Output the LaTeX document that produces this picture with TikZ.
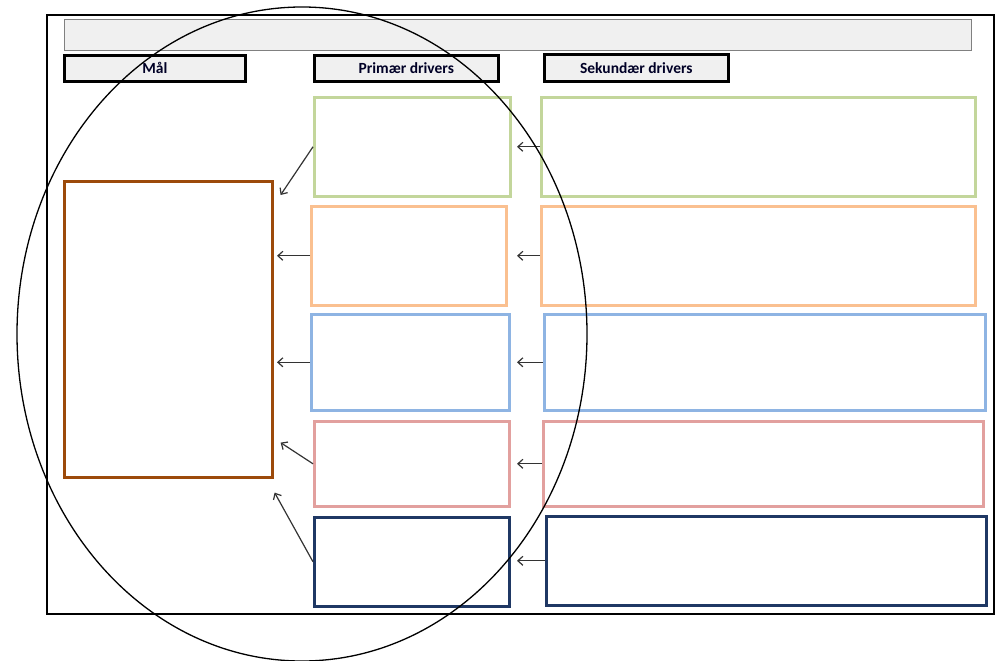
\documentclass[tikz,border=0pt]{standalone}
\usepackage{fontspec}
\setmainfont{Carlito}
\usetikzlibrary{arrows.meta,shapes.geometric,calc}
\definecolor{cgreen}{HTML}{C3D69B}
\definecolor{corange}{HTML}{FAC090}
\definecolor{cblue}{HTML}{8EB4E3}
\definecolor{cpink}{HTML}{E2A09E}
\definecolor{cnavy}{HTML}{1F3864}
\definecolor{cbrown}{HTML}{9C4A0A}
\definecolor{cfill}{HTML}{F0F0F0}
\definecolor{carrow}{HTML}{333333}
\tikzset{
  box/.style={draw, line width=2.6pt, anchor=north west, inner sep=0pt},
  hdr/.style={draw=black, fill=cfill, line width=2.6pt, anchor=north west, inner sep=0pt, text=black!85!blue, font=\bfseries\fontsize{15.5}{17}\selectfont},
  conn/.style={draw=carrow, line width=1.2pt, -{Straight Barb[length=5pt,width=9pt]}},
}
\begin{document}
\begin{tikzpicture}[x=1pt,y=-1pt]
\useasboundingbox (0,0) rectangle (996,661);
% outer frame
\node[draw=black, line width=1.6pt, anchor=north west, inner sep=0pt, minimum width=947pt, minimum height=599pt] (frame) at (46,14) {};
% title bar
\node[draw=gray, fill=cfill, line width=0.8pt, anchor=north west, inner sep=0pt, minimum width=907pt, minimum height=31pt] (title) at (64,19) {};
% headers
\node[hdr, minimum width=181pt, minimum height=26pt] (hmal) at (63,54) {Mål};
\node[hdr, minimum width=184pt, minimum height=26pt] (hprim) at (313,54) {Primær drivers};
\node[hdr, minimum width=184pt, minimum height=27pt] (hsek) at (543,53) {Sekundær drivers};
% goal
\node[box, draw=cbrown, minimum width=208pt, minimum height=296pt] (goal) at (63,180) {};
% primary drivers
\node[box, draw=cgreen,  minimum width=196pt, minimum height=99pt] (p1) at (313,96) {};
\node[box, draw=corange, minimum width=195pt, minimum height=99pt] (p2) at (310,205) {};
\node[box, draw=cblue,   minimum width=198pt, minimum height=96pt] (p3) at (310,313) {};
\node[box, draw=cpink,   minimum width=195pt, minimum height=85pt] (p4) at (313,420) {};
\node[box, draw=cnavy,   minimum width=195pt, minimum height=89pt] (p5) at (313,516) {};
% secondary drivers
\node[box, draw=cgreen,  minimum width=434pt, minimum height=99pt] (s1) at (540,96) {};
\node[box, draw=corange, minimum width=434pt, minimum height=99pt] (s2) at (540,205) {};
\node[box, draw=cblue,   minimum width=441pt, minimum height=96pt] (s3) at (543,313) {};
\node[box, draw=cpink,   minimum width=440pt, minimum height=85pt] (s4) at (542,420) {};
\node[box, draw=cnavy,   minimum width=440pt, minimum height=89pt] (s5) at (545,515) {};
% arrows primary -> goal
\coordinate (gx) at (277,0);
\draw[conn] (p1.west) -- ([xshift=7pt,yshift=-15pt]goal.north east);
\draw[conn] (p2.west) -- (p2.west -| gx);
\draw[conn] (p3.west) -- (p3.west -| gx);
\draw[conn] (p4.west) -- ([xshift=7pt,yshift=36pt]goal.south east);
\draw[conn] (p5.west) -- ([xshift=1pt,yshift=-14pt]goal.south east);
% arrows secondary -> primary
\coordinate (tx) at (517,0);
\draw[conn] (s1.west) -- (s1.west -| tx);
\draw[conn] (s2.west) -- (s2.west -| tx);
\draw[conn] (s3.west) -- (s3.west -| tx);
\draw[conn] (s4.west) -- (s4.west -| tx);
\draw[conn] (s5.west) -- (s5.west -| tx);
% ellipse
\node[ellipse, draw=black, line width=1.3pt, inner sep=0pt, minimum width=570pt, minimum height=654pt] (oval) at (302,334) {};
\end{tikzpicture}
\end{document}
